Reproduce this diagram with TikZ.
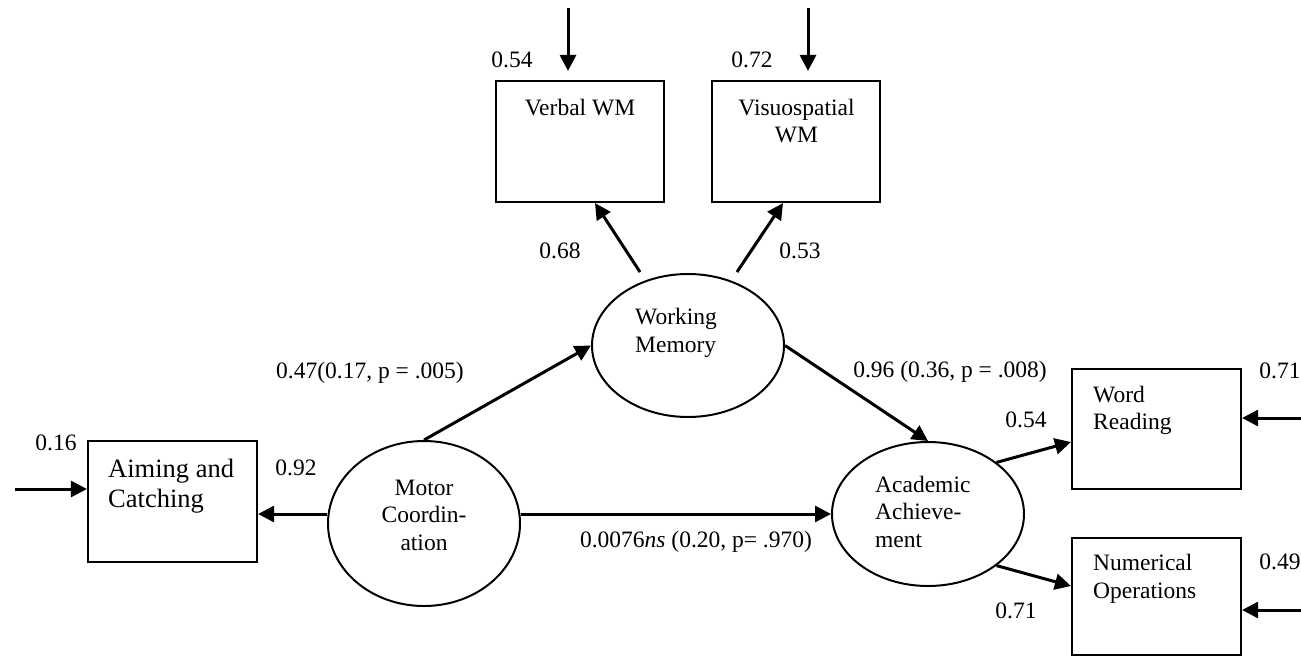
\documentclass[tikz,border=0pt]{standalone}
\usepackage{fontspec}
\setmainfont{Liberation Serif}
\usetikzlibrary{arrows.meta,shapes.geometric,calc}
\begin{document}
\begin{tikzpicture}[x=1pt,y=-1pt,
  box/.style={draw, line width=2.2pt, rectangle, inner sep=0pt},
  ell/.style={draw, line width=2pt, ellipse, inner sep=0pt, minimum width=192pt},
  arr/.style={line width=3pt, -{Triangle[length=16pt,width=16pt]}},
  lbl/.style={inner sep=0pt, anchor=base, font=\fontsize{23.5}{28}\selectfont},
  txt/.style={inner sep=0pt, font=\fontsize{23.5}{27.5}\selectfont}]
\useasboundingbox (0,0) rectangle (1301,657);

% boxes
\node[box, minimum width=169pt, minimum height=121pt] (Aim) at (172.5,501.5) {};
\node[box, minimum width=168pt, minimum height=121pt] (Verbal) at (580,141.5) {};
\node[box, minimum width=168pt, minimum height=121pt] (Visuo) at (796,141.5) {};
\node[box, minimum width=169pt, minimum height=120pt] (Word) at (1156.5,429) {};
\node[box, minimum width=169pt, minimum height=117pt] (Num) at (1156.5,596.5) {};

% ellipses
\node[ell, minimum height=165pt] (Motor) at (424,523.5) {};
\node[ell, minimum height=143pt] (WM) at (688,345.5) {};
\node[ell, minimum height=144pt] (Acad) at (928,514) {};

% texts inside (anchor = baseline of last line)
\node[txt, anchor=base west, align=left, font=\fontsize{26.5}{30}\selectfont] (AimT) at (108,507) {Aiming and\\Catching};
\node[txt, anchor=base] (VerbalT) at (580,115) {Verbal WM};
\node[txt, anchor=base, align=center, font=\fontsize{23.5}{27}\selectfont] (VisuoT) at (796.5,142) {Visuospatial\\WM};
\node[txt, anchor=base, align=center] (MotorT) at (424,550) {Motor\\Coordin-\\ation};
\node[txt, anchor=base west, align=left, font=\fontsize{23.5}{28}\selectfont] (WMT) at (635,352) {Working\\Memory};
\node[txt, anchor=base west, align=left] (AcadT) at (875,547) {Academic\\Achieve-\\ment};
\node[txt, anchor=base west, align=left, font=\fontsize{23.5}{27}\selectfont] (WordT) at (1093,429) {Word\\Reading};
\node[txt, anchor=base west, align=left, font=\fontsize{23.5}{28}\selectfont] (NumT) at (1093,598) {Numerical\\Operations};

% free ends
\coordinate (inAim) at (15,489);
\coordinate (inVerbal) at (568,8);
\coordinate (inVisuo) at (808,8);
\coordinate (inWord) at (1301,418);
\coordinate (inNum) at (1301,610);

% connectors
\draw[arr] (inAim) -- ([yshift=12.5pt]Aim.west);
\draw[arr] (inVerbal) -- ([xshift=-12pt,yshift=9pt]Verbal.north);
\draw[arr] (inVisuo) -- ([xshift=12pt,yshift=9pt]Visuo.north);
\draw[arr] (inWord) -- ([yshift=11pt]Word.east);
\draw[arr] (inNum) -- ([yshift=-13.5pt]Num.east);

\draw[arr] ([yshift=9.5pt]Motor.west) coordinate (mw) -- (mw -| Aim.east);
\draw[arr] ([yshift=9.5pt]Motor.east) -- (Acad.west);
\draw[arr] (Motor.north) -- (WM.west);
\draw[arr] (WM.east) -- (Acad.north);
\draw[arr] ([xshift=-48pt,yshift=1pt]WM.north) -- ([xshift=15pt]Verbal.south);
\draw[arr] ([xshift=49pt,yshift=1pt]WM.north) -- ([xshift=-13pt]Visuo.south);
\draw[arr] (Acad.north east) -- ([yshift=-13pt]Word.west);
\draw[arr] (Acad.south east) -- ([yshift=10.5pt]Num.west);

% labels
\node[lbl] (l1) at (512,67) {0.54};
\node[lbl] (l2) at (752,67) {0.72};
\node[lbl] (l3) at (560,258) {0.68};
\node[lbl] (l4) at (800,258) {0.53};
\node[lbl] (l5) at (370,378) {0.47(0.17, p = .005)};
\node[lbl] (l6) at (950,377) {0.96 (0.36, p = .008)};
\node[lbl] (l7) at (56,450) {0.16};
\node[lbl] (l8) at (296,475) {0.92};
\node[lbl] (l9) at (696,547) {0.0076\textit{ns} (0.20, p= .970)};
\node[lbl] (l10) at (1026,427) {0.54};
\node[lbl] (l11) at (1016,618) {0.71};
\node[lbl] (l12) at (1280,378) {0.71};
\node[lbl] (l13) at (1280,569) {0.49};
\end{tikzpicture}
\end{document}
